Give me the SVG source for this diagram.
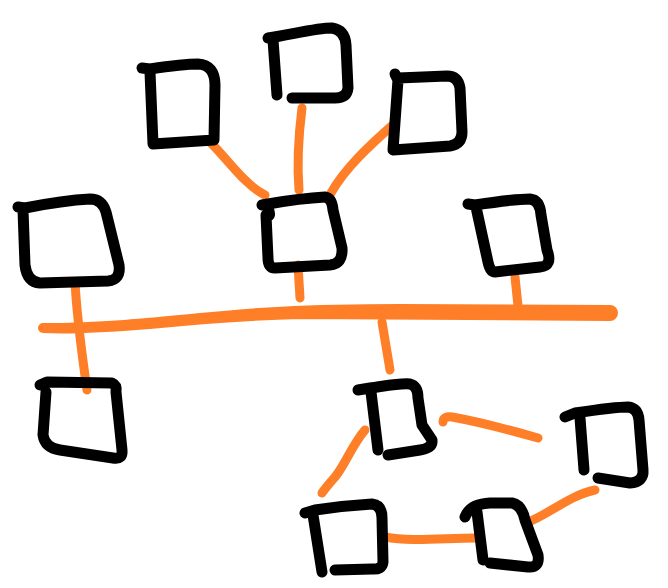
<svg xmlns="http://www.w3.org/2000/svg" width="668" height="588" viewBox="0 0 668 588">
<style>
.n{fill:none;stroke:#000;stroke-width:11;stroke-linecap:round;stroke-linejoin:round}
.c{fill:none;stroke:#fe7f27;stroke-width:9;stroke-linecap:round;stroke-linejoin:round}
.bus{fill:#fe7f27;stroke:#fe7f27;stroke-width:2;stroke-linejoin:round}
</style>
<rect width="668" height="588" fill="#fff"/>
<g id="connectors">
<path class="bus" d="M43,324 C100,324 150,319 200,314 C250,309 300,305 400,305 L610,306 A7,7 0 0 1 610,320 C500,319 400,318 300,318 C250,319 200,323 150,328 C100,332 60,333 43,332 A4,4 0 0 1 43,324 Z"/>
<path class="c" d="M210,142 C230,162 245,185 265,195"/>
<path class="c" d="M302,108 C298,140 297,165 299,190"/>
<path class="c" d="M395,123 C370,145 345,168 331,193"/>
<path class="c" d="M298,265 L300,298"/>
<path class="c" d="M515,277 L518,306"/>
<path class="c" d="M75,282 C77,320 82,355 87,390"/>
<path class="c" d="M382,322 L390,370"/>
<path class="c" d="M443,422 Q443,416 452,417 C480,422 510,430 538,438"/>
<path class="c" d="M365,430 C352,445 345,465 335,477 C328,485 324,490 322,493"/>
<path class="c" d="M385,537 C410,542 445,538 475,538"/>
<path class="c" d="M595,490 C570,495 548,515 526,523"/>
</g>
<g id="node-a"><path class="n" d="M142,68 L150,69 C170,66 185,64 198,64 Q215,65 215,85 L214,140 L153,144 L150,72"/></g>
<g id="node-b"><path class="n" d="M277,95 L273,40 M268,38 C290,35 315,28 332,28 Q345,30 346,45 L348,88 Q347,98 335,98 L292,98"/></g>
<g id="node-c"><path class="n" d="M395,74 L398,80 L393,150 L450,146 Q462,144 462,132 L460,88 Q458,76 447,76 L398,78"/></g>
<g id="node-d"><path class="n" d="M262,205 L268,204 C285,201 305,198 325,197 Q332,198 333,210 L342,248 Q343,264 330,265 L275,268 Q268,268 268,258 L266,215 Q272,218 268,208"/></g>
<g id="node-e"><path class="n" d="M18,207 L25,208 C45,204 70,200 90,199 Q102,199 106,212 L119,265 Q121,280 108,281 L40,283 Q27,282 25,265 L23,210"/></g>
<g id="node-f"><path class="n" d="M468,204 L475,205 C495,202 515,199 530,199 Q540,200 541,215 L547,250 Q553,266 540,267 L495,272 Q490,272 488,262 L476,207"/></g>
<g id="node-g"><path class="n" d="M40,385 L47,382 L112,383 Q117,385 116,392 L122,450 Q123,460 113,458 L60,450 Q45,448 43,435 L46,392"/></g>
<g id="node-h"><path class="n" d="M358,390 L370,388 C385,386 400,383 410,384 Q418,386 418,398 L422,425 L432,440 Q433,448 420,450 L388,455 M371,392 L378,450"/></g>
<g id="node-i"><path class="n" d="M565,417 L575,413 C595,410 615,407 628,407 Q638,408 639,420 L643,470 Q644,482 630,483 L598,478 M580,418 L584,470"/></g>
<g id="node-j"><path class="n" d="M465,517 Q470,504 490,503 L512,503 Q522,505 525,520 L538,555 Q540,568 528,567 L490,563 M477,512 L483,560"/></g>
<g id="node-k"><path class="n" d="M305,513 L315,510 C335,507 355,505 372,504 Q382,505 382,518 L383,562 Q382,570 372,569 L335,570 M313,515 L322,572"/></g>
</svg>
